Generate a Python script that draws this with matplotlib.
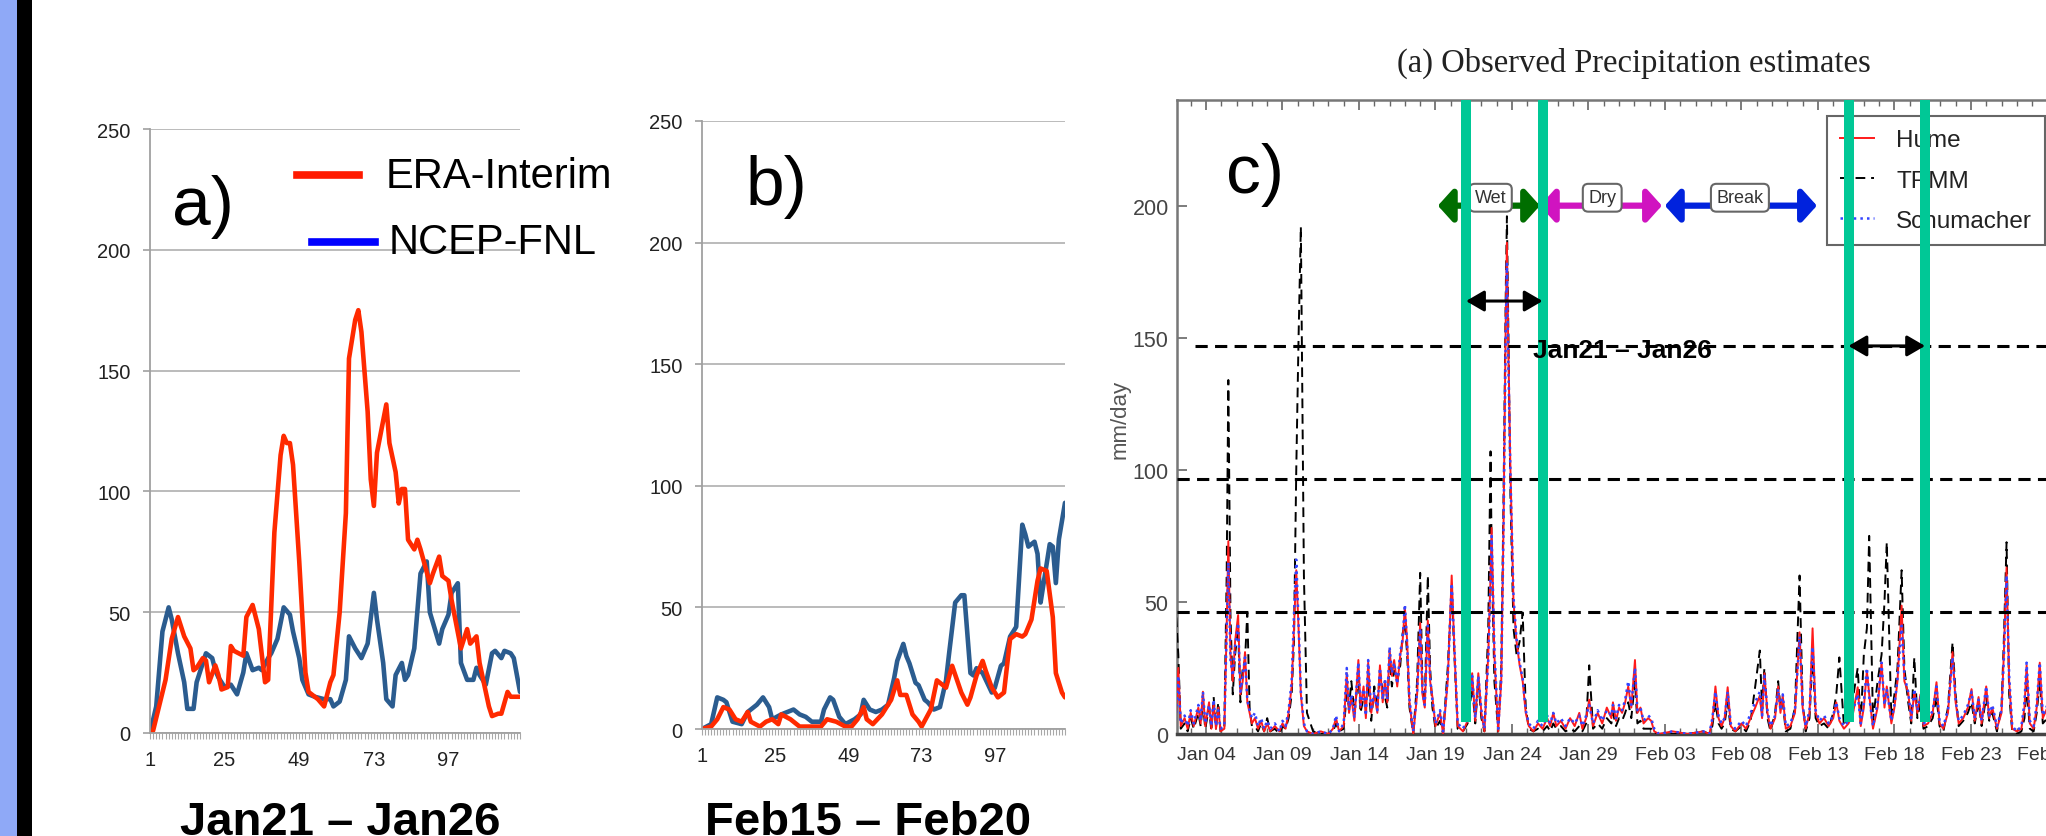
import numpy as np
import matplotlib
matplotlib.use("Agg")
import matplotlib.pyplot as plt
import matplotlib.dates as mdates
from matplotlib.patches import Rectangle
from matplotlib.lines import Line2D

W, H = 2046, 837
SANS = ["Liberation Sans", "DejaVu Sans"]
plt.rcParams["font.family"] = SANS

# ---- panel a: Jan21 - Jan26 (hourly index) ----
a_era_x = [1, 2, 6, 8, 10, 12, 14, 15, 16, 18, 19, 20, 22, 23, 24, 26, 27, 28, 31, 32, 34, 36, 38, 39,
           41, 43, 44, 45, 46, 47, 49, 51, 52, 55, 57, 59, 60, 62, 64, 65, 67, 68, 69, 71, 72, 73, 74,
           77, 78, 80, 81, 82, 83, 84, 86, 87, 88, 91, 92, 94, 95, 97, 98, 101, 103, 104, 106, 107,
           110, 111, 113, 114, 116, 117, 120]
a_era_y = [0, 1, 22, 39, 48, 40, 35, 26, 27, 31, 30, 21, 28, 24, 18, 19, 36, 34, 32, 48, 53, 43, 21, 22,
           83, 115, 123, 120, 120, 111, 71, 25, 17, 14, 11, 21, 24, 50, 91, 155, 171, 175, 166, 133, 105, 94, 116,
           136, 120, 108, 95, 101, 101, 80, 76, 80, 76, 62, 66, 73, 65, 63, 55, 35, 43, 37, 40, 29,
           11, 7, 8, 8, 17, 15, 15]
a_ncep_x = [1, 3, 5, 7, 8, 10, 12, 13, 15, 16, 18, 19, 21, 22, 23, 25, 27, 29, 31, 32, 34, 36, 37, 39,
            40, 42, 44, 46, 47, 49, 50, 52, 54, 57, 59, 60, 62, 64, 65, 67, 69, 71, 73, 74, 76, 77, 79,
            80, 82, 83, 84, 86, 88, 90, 91, 94, 95, 97, 98, 100, 101, 103, 105, 106, 107, 109, 111,
            112, 114, 115, 117, 118, 120]
a_ncep_y = [0, 11, 42, 52, 47, 33, 21, 10, 10, 21, 29, 33, 31, 26, 23, 19, 20, 16, 25, 33, 26, 27, 26, 31,
            33, 39, 52, 49, 42, 31, 22, 16, 15, 14, 14, 11, 13, 22, 40, 35, 31, 37, 58, 47, 29, 14, 11,
            24, 29, 22, 24, 35, 66, 71, 50, 37, 43, 49, 58, 62, 29, 22, 22, 27, 24, 20, 33,
            34, 31, 34, 33, 31, 17]

# ---- panel b: Feb15 - Feb20 ----
b_era_x = [1, 4, 6, 8, 10, 12, 14, 16, 17, 20, 22, 24, 26, 27, 30, 33, 38, 40, 42, 45, 48, 50, 52, 54,
           55, 57, 60, 63, 65, 66, 68, 70, 72, 73, 76, 78, 81, 83, 86, 88, 89, 91, 93, 94, 96, 98,
           100, 102, 104, 106, 107, 109, 111, 112, 114, 116, 117, 119, 120]
b_era_y = [0, 1, 4, 9, 8, 4, 3, 7, 3, 1, 3, 4, 2, 6, 4, 1, 1, 1, 4, 3, 1, 1, 4, 9,
           4, 2, 6, 12, 20, 14, 14, 6, 3, 1, 8, 20, 17, 26, 15, 10, 13, 22, 28, 24, 17, 13,
           15, 37, 39, 38, 39, 45, 61, 66, 65, 46, 23, 15, 13]
b_ncep_x = [1, 4, 6, 8, 9, 11, 14, 16, 17, 19, 21, 23, 24, 27, 29, 31, 33, 35, 37, 40, 41, 43, 44, 46,
            48, 51, 53, 54, 56, 58, 60, 62, 64, 65, 67, 68, 69, 71, 72, 74, 75, 77, 79, 81, 82, 84,
            86, 87, 89, 90, 91, 93, 96, 97, 99, 100, 102, 104, 106, 107, 108, 110, 111, 112, 113,
            115, 116, 117, 118, 120]
b_ncep_y = [0, 2, 13, 12, 11, 3, 2, 7, 8, 10, 13, 9, 4, 6, 7, 8, 6, 5, 3, 3, 8, 13, 12, 5,
            2, 4, 6, 12, 8, 7, 8, 10, 21, 28, 35, 30, 27, 19, 18, 12, 11, 8, 9, 20, 31, 52,
            55, 55, 23, 22, 25, 23, 15, 17, 26, 27, 38, 42, 84, 80, 75, 77, 72, 52, 60,
            76, 75, 60, 78, 93]
ab_ticks = [1, 25, 49, 73, 97]

# ---- panel c: observed precipitation, days since 2006-01-01 ----
c_days = [1.0, 1.19, 1.35, 1.6, 1.8, 2.0, 2.2, 2.5, 2.65, 2.8,
          2.95, 3.2, 3.35, 3.5, 3.65, 3.8, 3.95, 4.2, 4.35, 4.46,
          4.6, 4.75, 4.9, 5.1, 5.25, 5.4, 5.55, 5.7, 5.85, 6.0,
          6.2, 6.4, 6.6, 6.8, 7.0, 7.2, 7.5, 7.8, 8.0, 8.2,
          8.4, 8.6, 8.75, 8.9, 9.05, 9.2, 9.4, 9.6, 10.0, 10.5,
          11.0, 11.3, 11.5, 11.7, 12.0, 12.2, 12.35, 12.5, 12.7, 12.96,
          13.1, 13.3, 13.45, 13.6, 13.8, 14.0, 14.2, 14.37, 14.55, 14.7,
          14.85, 15.0, 15.15, 15.3, 15.5, 15.7, 15.85, 16.0, 16.15, 16.3,
          16.55, 16.8, 17.0, 17.15, 17.3, 17.5, 17.65, 17.8, 18.0, 18.3,
          18.5, 18.8, 19.06, 19.25, 19.45, 19.8, 20.1, 20.4, 20.6, 20.8,
          21.0, 21.2, 21.45, 21.6, 21.67, 21.85, 22.1, 22.3, 22.45, 22.6,
          22.67, 22.75, 22.9, 23.1, 23.3, 23.5, 23.7, 23.9, 24.1, 24.4,
          24.7, 25.0, 25.3, 25.5, 25.7, 25.9, 26.2, 26.5, 26.8, 27.1,
          27.4, 27.6, 27.85, 28.05, 28.3, 28.6, 28.9, 29.2, 29.5, 29.6,
          29.8, 30.0, 30.2, 30.4, 30.6, 30.8, 31.04, 31.2, 31.4, 31.6,
          31.9, 32.1, 32.3, 32.6, 33.5, 34.5, 35.5, 35.9, 36.1, 36.3,
          36.5, 36.7, 36.9, 37.1, 37.3, 37.6, 38.0, 38.3, 38.6, 38.9,
          39.2, 39.35, 39.5, 39.7, 39.9, 40.2, 40.4, 40.55, 40.7, 40.9,
          41.2, 41.5, 41.8, 42.0, 42.2, 42.45, 42.65, 42.85, 43.1, 43.4,
          43.7, 44.0, 44.2, 44.4, 44.7, 45.0, 45.3, 45.6, 45.8, 46.0,
          46.2, 46.35, 46.6, 46.9, 47.16, 47.35, 47.5, 47.8, 48.0, 48.2,
          48.47, 48.65, 48.9, 49.1, 49.3, 49.5, 49.7, 49.9, 50.2, 50.5,
          50.75, 50.95, 51.2, 51.5, 51.8, 52.0, 52.2, 52.5, 52.8, 53.04,
          53.25, 53.5, 53.7, 54.0, 54.2, 54.4, 54.7, 55.0, 55.15, 55.33,
          55.5, 55.7, 56.0, 56.3, 56.5, 56.64, 56.85, 57.1, 57.3, 57.5,
          57.7, 58.0, 58.3, 58.6, 59.0]
c_hume = [2, 25, 3, 6, 2, 8, 3, 10, 4, 16,
          3, 12, 2, 12, 2, 10, 1, 2, 40, 73,
          30, 20, 35, 45, 15, 20, 31, 12, 8, 4,
          6, 2, 5, 1, 4, 1, 3, 1, 4, 2,
          8, 18, 40, 62, 40, 15, 3, 1, 0, 1,
          0, 2, 6, 1, 3, 23, 8, 14, 5, 28,
          10, 18, 6, 27, 8, 15, 8, 26, 12, 20,
          12, 32, 22, 28, 18, 30, 35, 48, 35, 12,
          0, 15, 42, 15, 10, 43, 20, 14, 3, 8,
          0, 20, 60, 30, 3, 1, 5, 23, 5, 23,
          8, 1, 30, 60, 78, 30, 1, 20, 80, 160,
          186, 150, 100, 50, 35, 26, 20, 8, 3, 1,
          4, 2, 6, 3, 8, 3, 5, 2, 6, 3,
          8, 2, 6, 13, 3, 8, 4, 10, 6, 12,
          5, 10, 8, 12, 18, 10, 28, 8, 10, 4,
          6, 5, 1, 0, 1, 0, 1, 0, 5, 18,
          6, 3, 6, 17.7, 3, 1, 4, 2, 6, 10,
          14.5, 6, 23, 8, 2, 6, 18, 8, 14.5, 2,
          3, 8, 38.5, 10, 2, 8, 40, 8, 4, 6,
          3, 6, 12, 5, 2, 4, 8, 17.7, 3, 10,
          24, 15, 2, 10, 27, 10, 18, 4, 10, 20,
          48.6, 20, 15.8, 5, 16, 8, 15, 3, 4, 8,
          19.6, 4, 2, 8, 31, 12, 4, 6, 10, 17,
          5, 14, 4, 18, 6, 10, 2, 8, 30, 63,
          20, 2, 1, 2, 10, 26, 4, 2, 10, 27,
          6, 10, 3, 8, 2]
c_trmm = [50, 30, 2, 4, 1, 6, 2, 8, 3, 12,
          2, 10, 1, 14, 2, 12, 1, 3, 60, 134,
          45, 15, 30, 40, 12, 25, 28, 46, 10, 3,
          3, 1, 4, 1, 6, 1, 2, 0, 3, 2,
          6, 15, 35, 100, 150, 192, 60, 8, 1, 0,
          0, 1, 4, 1, 2, 15, 10, 20, 8, 22,
          8, 14, 12, 20, 5, 18, 10, 24, 16, 14,
          10, 28, 18, 24, 20, 26, 38, 42, 30, 10,
          0, 20, 61, 18, 12, 60, 25, 10, 2, 5,
          0, 25, 55, 28, 2, 1, 4, 18, 4, 20,
          6, 1, 40, 107, 70, 20, 1, 25, 90, 170,
          196, 160, 90, 40, 30, 35, 46, 10, 2, 1,
          2, 1, 3, 1, 4, 2, 3, 1, 2, 1,
          3, 1, 4, 26, 2, 4, 2, 6, 4, 8,
          3, 6, 5, 8, 12, 6, 20, 4, 5, 2,
          2, 2, 0, 0, 0, 0, 1, 0, 3, 12,
          4, 2, 4, 12, 2, 1, 3, 1, 5, 18,
          31.6, 10, 25, 6, 1, 8, 20, 10, 12, 1,
          2, 10, 60, 12, 1, 6, 30, 6, 3, 4,
          2, 8, 15, 29, 3, 6, 14, 25, 4, 30,
          40, 75, 5, 20, 30, 50, 72.6, 6, 15, 25,
          62, 25, 12, 4, 29, 6, 12, 2, 3, 6,
          14, 3, 1, 10, 34.7, 15, 3, 5, 8, 12,
          4, 12, 3, 14, 5, 8, 1, 10, 35, 72.6,
          15, 1, 0, 1, 6, 18, 2, 1, 8, 20,
          4, 6, 2, 5, 1]
c_schu = [3, 22, 4, 7, 3, 9, 4, 11, 5, 16,
          4, 11, 3, 13, 3, 9, 2, 3, 38, 65,
          28, 22, 33, 42, 16, 22, 29, 13, 9, 6,
          8, 3, 6, 2, 5, 2, 4, 1, 5, 3,
          9, 20, 45, 66, 42, 16, 4, 1, 0, 1,
          0, 2, 7, 1, 4, 25, 9, 15, 6, 27,
          11, 17, 7, 28, 9, 16, 9, 25, 13, 21,
          13, 33, 23, 27, 19, 31, 36, 49, 34, 13,
          1, 16, 40, 16, 11, 41, 21, 13, 4, 9,
          1, 21, 57, 31, 4, 2, 6, 22, 6, 22,
          9, 2, 28, 58, 75, 32, 2, 21, 78, 155,
          178, 145, 98, 52, 36, 27, 21, 9, 4, 2,
          5, 3, 7, 4, 8, 4, 6, 3, 6, 4,
          7, 3, 7, 11, 4, 9, 5, 9, 7, 11,
          6, 11, 9, 13, 20, 11, 25, 9, 10, 5,
          7, 6, 2, 0, 1, 0, 1, 0, 6, 16,
          7, 4, 6, 16, 4, 2, 5, 3, 8, 12,
          16, 7, 22, 9, 3, 7, 17, 9, 15, 3,
          4, 9, 37, 11, 3, 9, 33, 9, 5, 7,
          4, 7, 12, 6, 3, 5, 9, 15, 4, 12,
          25, 14, 3, 12, 27, 11, 17, 5, 11, 21,
          41, 22, 16, 6, 17, 9, 14, 4, 5, 9,
          18, 5, 3, 9, 29, 13, 5, 7, 11, 16,
          6, 13, 5, 18, 7, 11, 3, 9, 28, 60,
          22, 3, 1, 3, 12, 27, 5, 3, 11, 27,
          7, 11, 4, 9, 3]
c_tick_days = [3, 8, 13, 18, 23, 28, 33, 38, 43, 48, 53, 58]
phase_names = ["Wet", "Dry", "Break"]
phase_start = [18.16, 24.83, 33.0]
phase_end = [24.83, 32.8, 42.93]
phase_label = [21.6, 28.9, 37.9]
phase_colors = ["#006e00", "#d014c0", "#0022dd"]
window_days = [20, 25, 45, 50]          # Jan21, Jan26, Feb15, Feb20
ref_levels = [146.9, 96.5, 46.2]

T0 = np.datetime64("2006-01-01T00:00")


def day2num(d):
    t = T0 + np.round(np.asarray(d, dtype=float) * 1440).astype(int) * np.timedelta64(1, "m")
    return mdates.date2num(t)


def fx(px):
    return px / W


def fy(py):
    return 1 - py / H


fig = plt.figure(figsize=(W / 100, H / 100), dpi=100)

# slide edge strips
fig.add_artist(Rectangle((0, 0), fx(17), 1, transform=fig.transFigure, color="#8fa9f7", lw=0))
fig.add_artist(Rectangle((fx(17), 0), fx(15), 1, transform=fig.transFigure, color="black", lw=0))


def excel_panel(left, right, top, bottom, era_x, era_y, ncep_x, ncep_y):
    ax = fig.add_axes([fx(left), fy(bottom), (right - left) / W, (bottom - top) / H])
    ax.plot(ncep_x, ncep_y, color="#2b5c8f", lw=3.3, solid_joinstyle="round", solid_capstyle="round")
    ax.plot(era_x, era_y, color="#ff2a00", lw=3.3, solid_joinstyle="round", solid_capstyle="round")
    ax.set_xlim(1, 120)
    ax.set_ylim(0, 250)
    ax.set_yticks(range(0, 251, 50))
    ax.set_xticks(ab_ticks)
    ax.set_xticks(range(1, 121), minor=True)
    ax.grid(axis="y", color="#b5b5b5", lw=1.3)
    ax.set_axisbelow(True)
    for s in ["top", "right"]:
        ax.spines[s].set_visible(False)
    for s in ["left", "bottom"]:
        ax.spines[s].set_color("#a0a0a0")
        ax.spines[s].set_linewidth(1.3)
    ax.tick_params(axis="y", length=5, width=1.2, color="#a0a0a0", pad=9, labelsize=14.5, labelcolor="#222222")
    ax.tick_params(axis="x", which="both", length=4, width=0.8, color="#a8a8a8", pad=8,
                   labelsize=14.5, labelcolor="#222222")
    return ax


ax_a = excel_panel(150, 520, 130, 734, a_era_x, a_era_y, a_ncep_x, a_ncep_y)
ax_b = excel_panel(702, 1065, 122, 730, b_era_x, b_era_y, b_ncep_x, b_ncep_y)

# legend of panel a (slide overlay)
fig.add_artist(Line2D([fx(297), fx(359)], [fy(176), fy(176)], color="#ff1a00", lw=5.5))
fig.add_artist(Line2D([fx(312), fx(375)], [fy(243), fy(243)], color="#0000ff", lw=5.5))
fig.text(fx(386), fy(177), "ERA-Interim", fontsize=30, ha="left", va="center")
fig.text(fx(389), fy(243), "NCEP-FNL", fontsize=30, ha="left", va="center")

# panel labels and period titles
fig.text(fx(172), fy(207), "a)", fontsize=50, ha="left", va="center")
fig.text(fx(746), fy(187), "b)", fontsize=50, ha="left", va="center")
fig.text(fx(1226), fy(175), "c)", fontsize=50, ha="left", va="center")
fig.text(fx(340), fy(835), "Jan21 \u2013 Jan26", fontsize=34, fontweight="bold", ha="center", va="baseline")
fig.text(fx(868), fy(835), "Feb15 \u2013 Feb20", fontsize=34, fontweight="bold", ha="center", va="baseline")

# ---- panel c ----
ax_c = fig.add_axes([fx(1177), fy(735), (2078 - 1177) / W, (735 - 101) / H])
t = day2num(c_days)
l_trmm, = ax_c.plot(t, c_trmm, color="black", lw=1.4, ls=(0, (5, 3)), zorder=3)
l_hume, = ax_c.plot(t, c_hume, color="#ff1a1a", lw=1.4, zorder=4)
l_schu, = ax_c.plot(t, c_schu, color="#3344ff", lw=1.8, ls=":", zorder=5)
ax_c.set_xlim(day2num(1.104), day2num(60))
ax_c.set_ylim(0, 240)
ax_c.set_yticks(range(0, 201, 50))
ax_c.set_xticks(day2num(c_tick_days))
ax_c.xaxis.set_major_formatter(mdates.DateFormatter("%b %d"))
ax_c.xaxis.set_minor_locator(mdates.DayLocator())
for s in ["left", "top"]:
    ax_c.spines[s].set_color("#777777")
    ax_c.spines[s].set_linewidth(1.8)
ax_c.spines["bottom"].set_color("#444444")
ax_c.spines["bottom"].set_linewidth(2.5)
ax_c.tick_params(which="both", direction="in", top=True, color="#666666")
ax_c.tick_params(which="major", length=7, width=1.2)
ax_c.tick_params(which="minor", length=4, width=1)
ax_c.tick_params(axis="x", pad=9, labelsize=14, labelcolor="#333333")
ax_c.tick_params(axis="y", pad=6, labelsize=15.5, labelcolor="#444444")
ax_c.set_ylabel("mm/day", fontsize=16, color="#555555", va="center")
ax_c.yaxis.set_label_coords(-0.063, 0.497)

leg = ax_c.legend([l_hume, l_trmm, l_schu], ["Hume", "TRMM", "Schumacher"], loc="upper left",
                  bbox_to_anchor=(0.7214, 0.9748), borderaxespad=0, fancybox=False, framealpha=1,
                  edgecolor="#666666", prop=dict(size=17.5), handlelength=1.4,
                  handletextpad=0.9, labelspacing=0.75, borderpad=0.55)
leg.get_frame().set_linewidth(1.5)
leg.set_zorder(6)
for txt in leg.get_texts():
    txt.set_color("#222222")

# phase arrows with labels
for name, s, e, m, col in zip(phase_names, phase_start, phase_end, phase_label, phase_colors):
    ax_c.annotate("", xy=(day2num(e), 200), xytext=(day2num(s), 200),
                  arrowprops=dict(arrowstyle="<|-|>,head_length=0.45,head_width=0.5", color=col, lw=4.5,
                                  shrinkA=0, shrinkB=0, mutation_scale=20), zorder=7)
    ax_c.text(day2num(m), 203, name, ha="center", va="center", fontsize=13,
              color="#333333", zorder=8,
              bbox=dict(boxstyle="round,pad=0.3", fc="white", ec="#666666", lw=1.5))

# reference levels (dashed), selection windows (green) and spans
ax_c.hlines(ref_levels, [day2num(2.28), day2num(1.104), day2num(1.104)], day2num(60),
            colors="black", lw=2.2, linestyles=[(0, (4, 2.4))], zorder=9)
ax_c.vlines(day2num(window_days), 4.5, 240, colors="#00c896", lw=7.2, zorder=10)
for (s, e), yv in zip([(window_days[0], window_days[1]), (window_days[2], window_days[3])], [163.9, 146.9]):
    ax_c.annotate("", xy=(day2num(e), yv), xytext=(day2num(s), yv),
                  arrowprops=dict(arrowstyle="<|-|>,head_length=0.55,head_width=0.32", color="black",
                                  lw=2.2, shrinkA=0, shrinkB=0, mutation_scale=20), zorder=11)
ax_c.text(day2num(24.37), 145.5, "Jan21 \u2013 Jan26", fontsize=19, fontweight="bold", ha="left",
          va="center", zorder=12)

fig.text(fx(1634), fy(63), "(a) Observed Precipitation estimates", fontsize=23.5,
         family=["Liberation Serif", "DejaVu Serif"], ha="center", va="center", color="#222222")

fig.savefig("out.png", dpi=100)
